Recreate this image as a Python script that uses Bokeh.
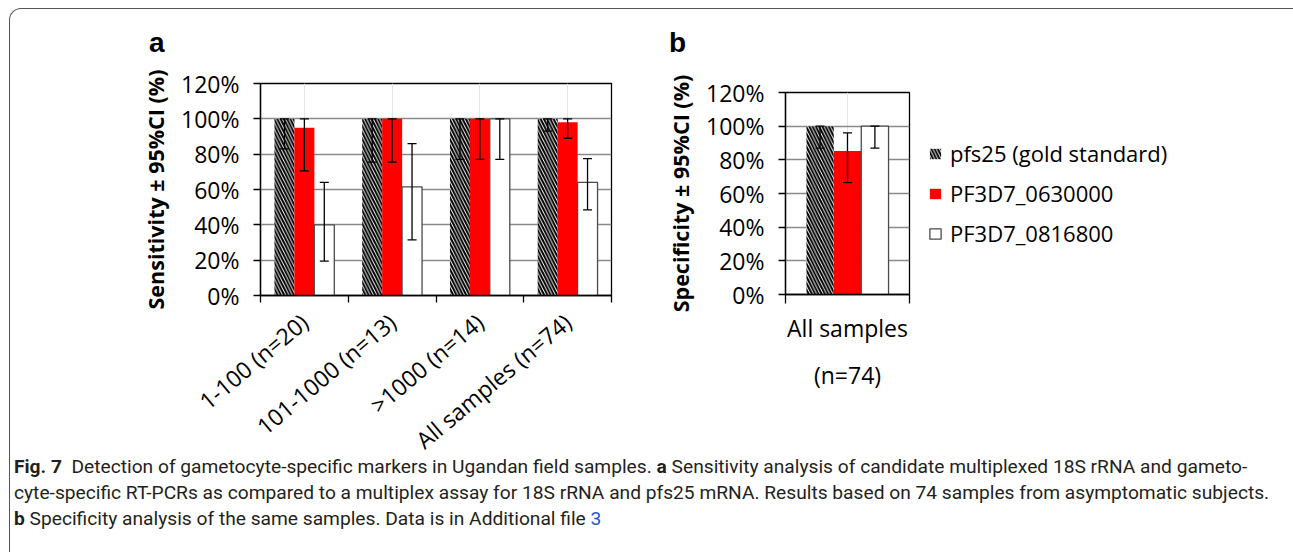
import math
from bokeh.plotting import figure
from bokeh.models import (ColumnDataSource, FactorRange, Range1d, Whisker, TeeHead, Legend,
                          LegendItem, LinearAxis, FixedTicker, Div)
from bokeh.transform import dodge
from bokeh.layouts import row, column
from bokeh.embed import file_html
from bokeh.resources import INLINE

# ---------------- data ----------------
series_names = ["pfs25 (gold standard)", "PF3D7_0630000", "PF3D7_0816800"]

sens_categories = ["1-100 (n=20)", "101-1000 (n=13)", ">1000 (n=14)", "All samples (n=74)"]
sens_pfs25 = [100, 100, 100, 100]
sens_pfs25_low = [83, 75.5, 77, 93]
sens_pfs25_high = [100, 100, 100, 100]
sens_0630000 = [95, 100, 100, 98]
sens_0630000_low = [70.5, 75.5, 77, 89]
sens_0630000_high = [100, 100, 100, 100]
sens_0816800 = [40, 61.5, 100, 64]
sens_0816800_low = [19.5, 31.5, 77, 48.5]
sens_0816800_high = [64, 86, 100, 77.5]

spec_categories = ["All samples\n(n=74)"]
spec_pfs25 = [100]
spec_pfs25_low = [87]
spec_pfs25_high = [100]
spec_0630000 = [85.3]
spec_0630000_low = [66.5]
spec_0630000_high = [96]
spec_0816800 = [100]
spec_0816800_low = [87]
spec_0816800_high = [100]

y_ticks = [0, 20, 40, 60, 80, 100, 120]
y_tick_labels = ["0%", "20%", "40%", "60%", "80%", "100%", "120%"]

# ---------------- styles ----------------
FONT = "Open Sans"
SERIES_STYLES = [
    dict(fill_color="white", line_color=None, hatch_pattern="\\", hatch_color="black",
         hatch_weight=2.0, hatch_scale=6.5),
    dict(fill_color="#ff0000", line_color=None),
    dict(fill_color="white", line_color="#4a4a4a", line_width=1.3),
]


def make_panel(cats, series, ylabel, frame_w, frame_h, mb_left, mb_top, mb_right,
               bar_w, step, label_angle, tick_out, label_standoff, line_height=1.2,
               with_legend=False):
    p = figure(x_range=FactorRange(*cats), y_range=Range1d(0, 120),
               frame_width=frame_w, frame_height=frame_h,
               min_border_left=mb_left, min_border_top=mb_top, min_border_right=mb_right,
               min_border_bottom=0, x_axis_location=None,
               output_backend="svg", toolbar_location=None, tools="")
    p.outline_line_color = "black"
    p.outline_line_width = 1.3
    p.background_fill_color = "white"
    p.border_fill_color = "white"

    ax = p.yaxis[0]
    ax.ticker = FixedTicker(ticks=y_ticks)
    ax.major_label_overrides = dict(zip(y_ticks, y_tick_labels))
    ax.major_label_text_font = FONT
    ax.major_label_text_font_size = "23px"
    ax.major_label_text_color = "black"
    ax.major_label_standoff = 14
    ax.major_tick_out = 7
    ax.major_tick_in = 0
    ax.minor_tick_out = 0
    ax.minor_tick_in = 0
    ax.axis_line_color = "black"
    ax.axis_line_width = 1.3
    ax.major_tick_line_color = "black"
    ax.major_tick_line_width = 1.3
    ax.axis_label = ylabel
    ax.axis_label_text_font = FONT
    ax.axis_label_text_font_style = "bold"
    ax.axis_label_text_font_size = "21.5px"
    ax.axis_label_text_color = "black"
    ax.axis_label_standoff = 8

    p.ygrid.grid_line_color = "#8a8a8a"
    p.ygrid.grid_line_width = 1.3
    p.ygrid.ticker = FixedTicker(ticks=y_ticks)

    # category labels at the category centres, tick marks at the category boundaries
    centers = [i + 0.5 for i in range(len(cats))]
    bounds = list(range(len(cats) + 1))
    xax = LinearAxis(ticker=FixedTicker(ticks=centers, minor_ticks=bounds),
                     major_label_overrides=dict(zip(centers, cats)),
                     major_tick_out=0, major_tick_in=0, major_tick_line_color=None,
                     minor_tick_out=tick_out, minor_tick_in=0,
                     minor_tick_line_color="black", minor_tick_line_width=1.3,
                     axis_line_color="black", axis_line_width=1.3,
                     major_label_standoff=label_standoff,
                     major_label_text_font=FONT, major_label_text_font_size="23px",
                     major_label_text_color="black",
                     major_label_text_line_height=line_height)
    if label_angle:
        xax.major_label_orientation = label_angle
    p.add_layout(xax, "below")

    offsets = [-step, 0, step]
    items = []
    for i, (name, (vals, lo, hi)) in enumerate(zip(series_names, series)):
        src = ColumnDataSource(dict(cat=list(cats), val=vals, lo=lo, hi=hi))
        xpos = dodge("cat", offsets[i], range=p.x_range)
        r = p.vbar(x=xpos, top="val", bottom=0, width=bar_w, source=src, **SERIES_STYLES[i])
        w = Whisker(source=src, base=xpos, upper="hi", lower="lo", level="annotation",
                    line_color="black", line_width=1.3,
                    upper_head=TeeHead(size=9, line_color="black", line_width=1.3),
                    lower_head=TeeHead(size=9, line_color="black", line_width=1.3))
        p.add_layout(w)
        items.append(LegendItem(label=name, renderers=[r]))

    if with_legend:
        legend = Legend(items=items, location="center_left", margin=19, padding=10,
                        border_line_color=None, background_fill_alpha=0,
                        label_text_font=FONT, label_text_font_size="22px",
                        label_text_color="black",
                        glyph_width=14, glyph_height=13, label_standoff=8, spacing=10)
        p.add_layout(legend, "right")
    return p


def letter_div(letter, left):
    return Div(text=letter, width=40, height=28, margin=(20, 0, 0, left),
               styles={"font-family": "Liberation Sans", "font-weight": "bold",
                       "font-size": "28px", "line-height": "28px", "color": "black"})


pa = make_panel(sens_categories,
                [(sens_pfs25, sens_pfs25_low, sens_pfs25_high),
                 (sens_0630000, sens_0630000_low, sens_0630000_high),
                 (sens_0816800, sens_0816800_low, sens_0816800_high)],
                "Sensitivity \u00b1 95%CI (%)",
                frame_w=351, frame_h=212, mb_left=250, mb_top=26, mb_right=28,
                bar_w=0.228, step=0.227, label_angle=math.radians(40), tick_out=7,
                label_standoff=16)

pb = make_panel(spec_categories,
                [(spec_pfs25, spec_pfs25_low, spec_pfs25_high),
                 (spec_0630000, spec_0630000_low, spec_0630000_high),
                 (spec_0816800, spec_0816800_low, spec_0816800_high)],
                "Specificity \u00b1 95%CI (%)",
                frame_w=124, frame_h=202, mb_left=146, mb_top=35, mb_right=0,
                bar_w=0.22, step=0.221, label_angle=None, tick_out=9, label_standoff=8,
                line_height=1.47, with_legend=True)

caption_html = (
    "<b>Fig.&nbsp;7</b>&nbsp; Detection of gametocyte-specific markers in Ugandan field samples. "
    "<b>a</b> Sensitivity analysis of candidate multiplexed 18S rRNA and gameto-<br>"
    "cyte-specific RT-PCRs as compared to a multiplex assay for 18S rRNA and pfs25 mRNA. "
    "Results based on 74 samples from asymptomatic subjects.<br>"
    "<b>b</b> Specificity analysis of the same samples. Data is in Additional file "
    "<span style='color:#2157c9'>3</span>"
)
caption = Div(text=caption_html, width=1274, height=98, margin=(-16, 0, 0, 4),
              styles={"font-family": "Roboto", "font-size": "19.2px", "line-height": "26px",
                      "color": "#231f20", "white-space": "nowrap"})

pa_box = column(letter_div("a", 139), pa)
pb_box = column(letter_div("b", 30), pb)
root = column(row(pa_box, pb_box), caption, margin=(8, 0, 0, 9),
              styles={"border": "1.3px solid #555", "border-bottom": "none",
                      "border-radius": "12px 12px 0 0"})

open("out.html", "w").write(file_html(root, INLINE))
